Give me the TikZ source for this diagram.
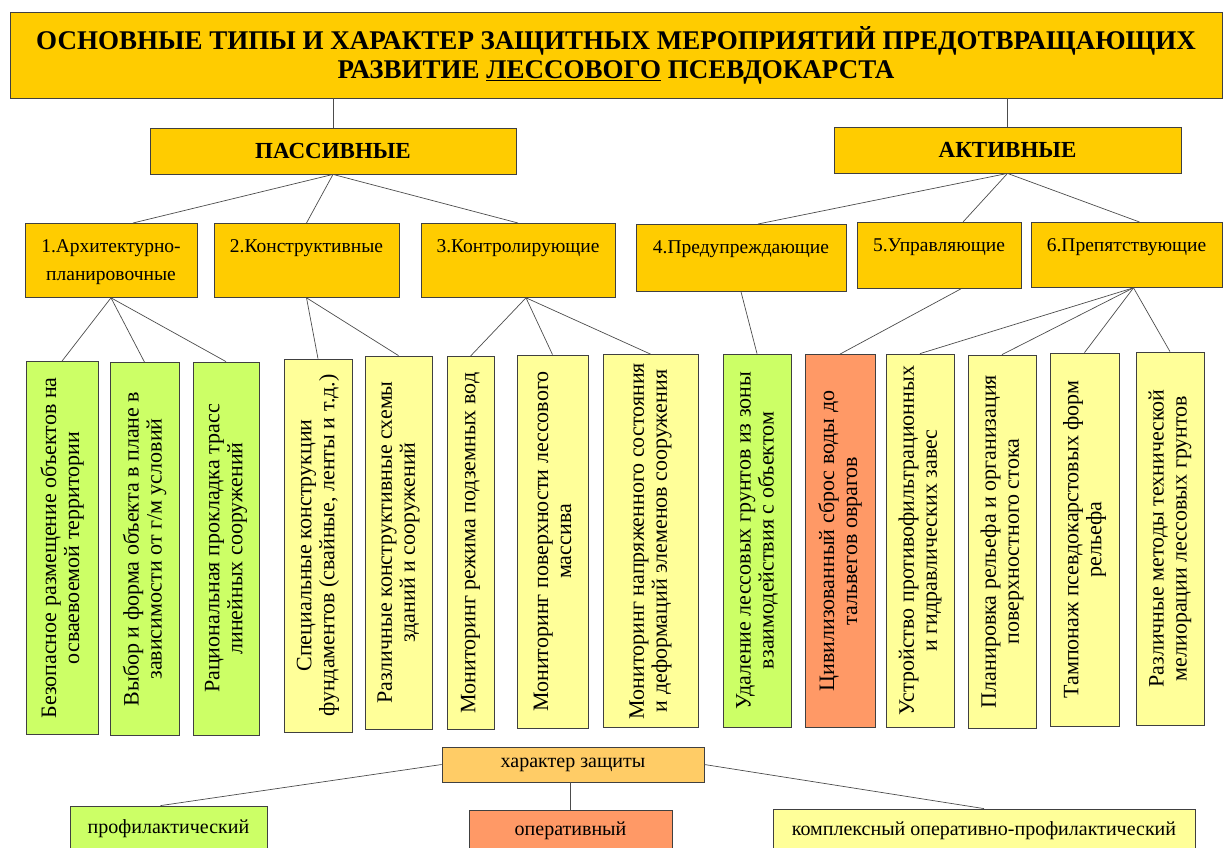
\documentclass[tikz,border=0pt]{standalone}
\usepackage{fontspec}
\setmainfont{Liberation Serif}
\usepackage{xcolor}
\usepackage{tikz}
\usetikzlibrary{positioning, calc}

\definecolor{gold}{RGB}{255,204,0}
\definecolor{leafgreen}{RGB}{204,255,102}
\definecolor{paleyellow}{RGB}{255,255,153}
\definecolor{coral}{RGB}{255,153,102}
\definecolor{apricot}{RGB}{255,204,102}

\begin{document}
\begin{tikzpicture}[
    x=1pt, y=1pt,
    box/.style={rectangle, draw=black!75, line width=0.8pt, inner sep=4pt},
    headbox/.style={box, fill=gold, align=center, font=\fontsize{27}{29}\selectfont\bfseries},
    kindbox/.style={box, fill=gold, font=\fontsize{23}{27}\selectfont\bfseries},
    groupbox/.style={box, fill=gold, anchor=north, align=center, inner ysep=5pt, text height=24pt, font=\fontsize{19.5}{28}\selectfont},
    leaf/.style={box, rotate=90, align=center, minimum width=373pt, font=\fontsize{22}{23}\selectfont},
    sortbox/.style={box, font=\fontsize{20}{24}\selectfont},
    link/.style={draw=black!70, line width=0.7pt}
]
\useasboundingbox (0,0) rectangle (1226,-847);
\clip (0,0) rectangle (1226,-847);

% Title
\node[headbox, minimum width=1212pt, minimum height=86pt] (title) at (616,-55)
    {ОСНОВНЫЕ ТИПЫ И ХАРАКТЕР ЗАЩИТНЫХ МЕРОПРИЯТИЙ ПРЕДОТВРАЩАЮЩИХ\\РАЗВИТИЕ \underline{ЛЕССОВОГО} ПСЕВДОКАРСТА};

% Kinds
\node[kindbox, minimum width=366pt, minimum height=46pt] (passive) at (333,-151) {ПАССИВНЫЕ};
\node[kindbox, minimum width=347pt, minimum height=46pt] (active) at (1007.5,-150) {АКТИВНЫЕ};

% Groups
\node[groupbox, text width=164pt, text depth=40pt] (arch) at (111,-223) {1.Архитектурно-\\планировочные};
\node[groupbox, text width=177pt, text depth=40pt] (constr) at (306.5,-223) {2.Конструктивные};
\node[groupbox, text width=186pt, text depth=40pt] (control) at (518,-223) {3.Контролирующие};
\node[groupbox, text width=202pt, text depth=33pt] (warn) at (741,-224) {4.Предупреждающие};
\node[groupbox, text width=156pt, text depth=32pt] (manage) at (939,-222) {5.Управляющие};
\node[groupbox, text width=183pt, text depth=31pt] (obstr) at (1126.5,-222) {6.Препятствующие};

% Measures
\node[leaf, fill=leafgreen, minimum height=72pt] (safeplace) at (62,-548) {Безопасное размещение объектов на\\осваевоемой территории};
\node[leaf, fill=leafgreen, minimum height=69pt] (shapeplan) at (144.5,-549) {Выбор и форма объекта в плане в\\зависимости от г/м условий};
\node[leaf, fill=leafgreen, minimum height=66pt] (routes) at (226,-548.5) {Рациональная прокладка трасс\\линейных сооружений};
\node[leaf, fill=paleyellow, minimum height=68pt] (foundations) at (318,-545.5) {Специальные конструкции\\фундаментов (свайные, ленты и т.д.)};
\node[leaf, fill=paleyellow, minimum height=67pt] (schemes) at (398.5,-542.5) {Различные конструктивные схемы\\зданий и сооружений};
\node[leaf, fill=paleyellow, minimum height=47pt] (groundwater) at (470.5,-543) {Мониторинг режима подземных вод};
\node[leaf, fill=paleyellow, minimum height=71pt] (surface) at (552.5,-541.5) {Мониторинг поверхности лессового\\массива};
\node[leaf, fill=paleyellow, minimum height=95pt] (stress) at (650.5,-541) {Мониторинг напряженного состояния\\и деформаций элеменов сооружения};
\node[leaf, fill=leafgreen, minimum height=68pt] (removal) at (757,-540.5) {Удаление лессовых грунтов из зоны\\взаимодействия с объектом};
\node[leaf, fill=coral, minimum height=70pt] (discharge) at (840,-541) {Цивилизованный сброс воды до\\тальвегов оврагов};
\node[leaf, fill=paleyellow, minimum height=68pt] (curtains) at (920,-540.5) {Устройство противофильтрационных\\и гидравлических завес};
\node[leaf, fill=paleyellow, minimum height=68pt] (grading) at (1002,-541.5) {Планировка рельефа и организация\\поверхностного стока};
\node[leaf, fill=paleyellow, minimum height=69pt] (plugging) at (1084.5,-539.5) {Тампонаж псевдокарстовых форм\\рельефа};
\node[leaf, fill=paleyellow, minimum height=68pt] (melioration) at (1170,-538.5) {Различные методы технической\\мелиорации лессовых грунтов};

% Nature of protection
\node[sortbox, fill=apricot, minimum width=262pt, minimum height=35pt] (nature) at (573,-764.5) {характер защиты};
\node[sortbox, fill=leafgreen, minimum width=197pt, minimum height=46pt] (prophyl) at (168.5,-829) {профилактический};
\node[sortbox, fill=coral, minimum width=203pt, minimum height=42pt] (operative) at (570.5,-831) {оперативный};
\node[sortbox, fill=paleyellow, minimum width=422pt, minimum height=43pt] (complex) at (984,-830.5) {комплексный оперативно-профилактический};

% Title connections
\draw[link] (passive.north |- title.south) -- (passive.north);
\draw[link] (active.north |- title.south) -- (active.north);

% Kind connections
\draw[link] (passive.south) -- ([xshift=22pt]arch.north);
\draw[link] (passive.south) -- (constr.north);
\draw[link] (passive.south) -- (control.north);
\draw[link] (active.south) -- ([xshift=17pt]warn.north);
\draw[link] (active.south) -- ([xshift=24pt]manage.north);
\draw[link] (active.south) -- ([xshift=13pt]obstr.north);

% Group connections
\draw[link] (arch.south) -- (safeplace.east);
\draw[link] (arch.south) -- (shapeplan.east);
\draw[link] (arch.south) -- (routes.east);
\draw[link] (constr.south) -- (foundations.east);
\draw[link] (constr.south) -- (schemes.east);
\draw[link] ([xshift=8pt]control.south) -- (groundwater.east);
\draw[link] ([xshift=8pt]control.south) -- (surface.east);
\draw[link] ([xshift=8pt]control.south) -- (stress.east);
\draw[link] (warn.south) -- (removal.east);
\draw[link] ([xshift=22pt]manage.south) -- (discharge.east);
\draw[link] ([xshift=7pt]obstr.south) -- (curtains.east);
\draw[link] ([xshift=7pt]obstr.south) -- (grading.east);
\draw[link] ([xshift=7pt]obstr.south) -- (plugging.east);
\draw[link] ([xshift=7pt]obstr.south) -- (melioration.east);

% Nature connections
\draw[link] (nature.west) -- ([xshift=-8pt]prophyl.north);
\draw[link] (operative.north |- nature.south) -- (operative.north);
\draw[link] (nature.east) -- (complex.north);
\end{tikzpicture}
\end{document}
